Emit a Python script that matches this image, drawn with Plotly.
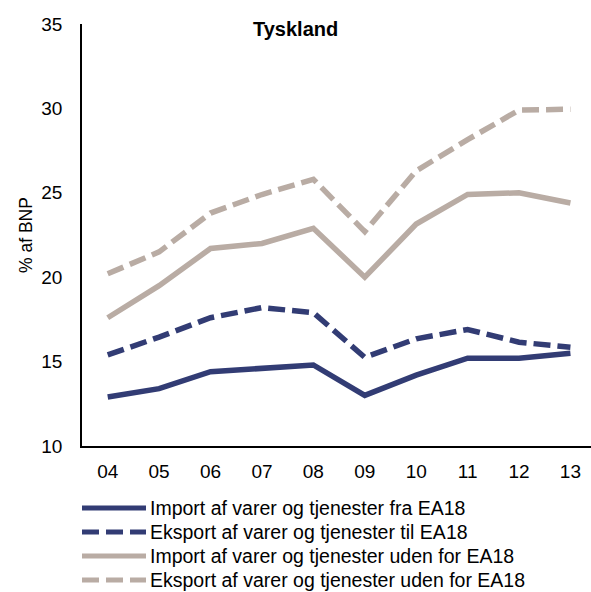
import plotly.graph_objects as go

years = ["04", "05", "06", "07", "08", "09", "10", "11", "12", "13"]
import_ea18 = [12.9, 13.4, 14.4, 14.6, 14.8, 13.0, 14.2, 15.2, 15.2, 15.5]
eksport_ea18 = [15.4, 16.45, 17.6, 18.2, 17.9, 15.25, 16.35, 16.9, 16.15, 15.85]
import_uden = [17.6, 19.5, 21.7, 22.0, 22.9, 20.0, 23.15, 24.9, 25.0, 24.4]
eksport_uden = [20.2, 21.5, 23.8, 24.9, 25.8, 22.7, 26.3, 28.15, 29.9, 29.95]
series_names = [
    "Import af varer og tjenester fra EA18",
    "Eksport af varer og tjenester til EA18",
    "Import af varer og tjenester uden for EA18",
    "Eksport af varer og tjenester uden for EA18",
]
y_ticks = [10, 15, 20, 25, 30, 35]

NAVY = "#323C74"
TAN = "#B9ACA4"
DASH = "17px,7px"
FONT = "Liberation Sans, Arial, sans-serif"

W, H = 591, 592
L, T, B = 82, 24, 146
PW = W - L
PH = H - T - B

styles = [(NAVY, "solid"), (NAVY, DASH), (TAN, "solid"), (TAN, DASH)]
data = [import_ea18, eksport_ea18, import_uden, eksport_uden]

fig = go.Figure()
for name, vals, (col, dash) in zip(series_names, data, styles):
    fig.add_trace(go.Scatter(
        x=list(range(len(years))), y=vals, mode="lines", name=name,
        line=dict(color=col, width=5.5, dash=dash), showlegend=False,
        hoverinfo="skip",
    ))

def px_x(p):
    return (p - L) / PW

def px_y(p):
    return (T + PH - p) / PH

shapes = []
annotations = []
rows = [508, 532, 556, 580]
for (col, dash), name, ry in zip(styles, series_names, rows):
    shapes.append(dict(type="line", xref="paper", yref="paper",
                       x0=px_x(82), x1=px_x(146), y0=px_y(ry), y1=px_y(ry),
                       line=dict(color=col, width=5, dash=dash)))
    annotations.append(dict(xref="paper", yref="paper", x=px_x(148), y=px_y(ry),
                            xanchor="left", yanchor="middle", text=name, showarrow=False,
                            font=dict(family=FONT, size=19.5, color="#000")))

annotations.append(dict(xref="paper", yref="paper", x=px_x(295), y=px_y(29),
                        xanchor="center", yanchor="middle", text="<b>Tyskland</b>",
                        showarrow=False, font=dict(family=FONT, size=20, color="#000")))

fig.update_layout(
    width=W, height=H,
    margin=dict(l=L, r=0, t=T, b=B, pad=0),
    paper_bgcolor="white", plot_bgcolor="white",
    font=dict(family=FONT, size=19, color="#000"),
    shapes=shapes, annotations=annotations,
    xaxis=dict(
        range=[-0.5, 9.4], tickmode="array", tickvals=list(range(len(years))),
        ticktext=years, showgrid=False, zeroline=False, showline=True,
        linecolor="#000", linewidth=1.5, ticks="", ticklabelstandoff=7,
        tickfont=dict(family=FONT, size=19), automargin=False,
    ),
    yaxis=dict(
        range=[10, 35], tickvals=y_ticks, showgrid=False, zeroline=False,
        showline=True, linecolor="#000", linewidth=1.5, ticks="",
        ticklabelstandoff=14, tickfont=dict(family=FONT, size=19), automargin=False,
        title=dict(text="% af BNP", font=dict(family=FONT, size=17.5), standoff=4),
    ),
)

fig.write_html(
    "out.html",
    config={"displayModeBar": False},
    post_script="document.body.style.margin='0';document.body.style.overflow='hidden';",
)
